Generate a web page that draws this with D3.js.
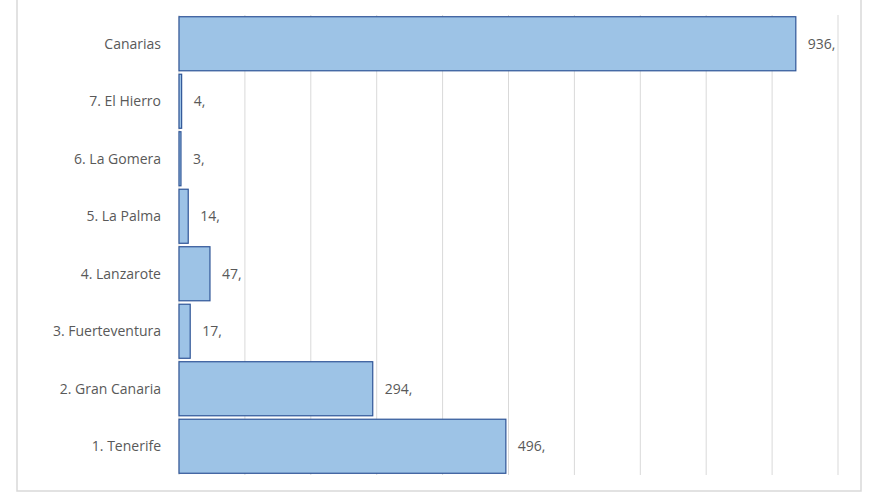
<!DOCTYPE html><html><head><meta charset="utf-8"><script src="https://d3js.org/d3.v7.min.js"></script>
<style>body{margin:0;background:#fff}</style></head><body><svg id="c" width="880" height="495"></svg><script>
const categories=["Canarias","7. El Hierro","6. La Gomera","5. La Palma","4. Lanzarote","3. Fuerteventura","2. Gran Canaria","1. Tenerife"];
const values=[936,4,3,14,47,17,294,496];
const labels=["936,","4,","3,","14,","47,","17,","294,","496,"];
const ticks=[0,100,200,300,400,500,600,700,800,900,1000];
const svg=d3.select("#c");
svg.append("rect").attr("x",17).attr("y",-5).attr("width",844).attr("height",496).attr("fill","none").attr("stroke","#d9d9d9").attr("stroke-width",1.5);
const x=d3.scaleLinear().domain([0,1000]).range([179,838]);
const y=d3.scaleBand().domain(categories).range([15,475]).paddingInner(0.06).paddingOuter(0.03);
svg.append("g").selectAll("line").data(ticks).join("line").attr("x1",d=>x(d)).attr("x2",d=>x(d)).attr("y1",15).attr("y2",475).attr("stroke","#d9d9d9");
svg.append("g").selectAll("rect").data(values).join("rect").attr("x",x(0)).attr("y",(d,i)=>y(categories[i])).attr("width",d=>x(d)-x(0)).attr("height",y.bandwidth()).attr("fill","#9dc3e6").attr("stroke","#2f5597").attr("stroke-width",1.2);
svg.append("g").selectAll("text").data(labels).join("text").attr("x",(d,i)=>x(values[i])+12).attr("y",(d,i)=>y(categories[i])+y.bandwidth()/2).attr("dy","0.35em").attr("font-family","Open Sans, sans-serif").attr("font-size",14).attr("fill","#595959").text(d=>d);
svg.append("g").selectAll("text").data(categories).join("text").attr("x",161).attr("y",d=>y(d)+y.bandwidth()/2).attr("dy","0.35em").attr("text-anchor","end").attr("font-family","Open Sans, sans-serif").attr("font-size",14).attr("fill","#595959").text(d=>d);
</script></body></html>
